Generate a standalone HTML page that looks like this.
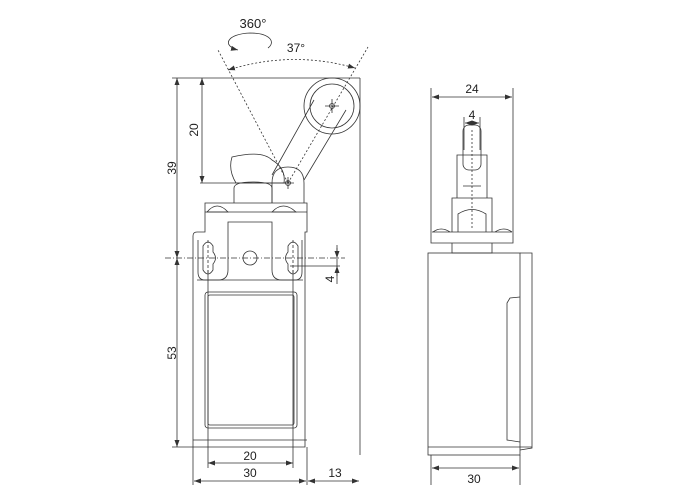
<!DOCTYPE html>
<html><head><style>body{margin:0;background:#fff}svg{display:block}</style></head><body>
<svg width="700" height="500" viewBox="0 0 700 500" xmlns="http://www.w3.org/2000/svg" font-family="Liberation Sans, sans-serif" fill="none" stroke="#333" stroke-width="0.8">
<defs><marker id="a" markerWidth="8" markerHeight="6" refX="7" refY="3" orient="auto-start-reverse" markerUnits="userSpaceOnUse"><path d="M0,0.5 L7,3 L0,5.5z" fill="#333" stroke="none"/></marker></defs>
<text x="253" y="28" font-size="13" fill="#222" stroke="none" text-anchor="middle">360°</text>
<path d="M238,50 C222,46 226,34 250,33 C270,33 276,42 268,48" marker-start="url(#a)"/>
<text x="296" y="52" font-size="12" fill="#222" stroke="none" text-anchor="middle">37°</text>
<path d="M228,70 Q292,50 355,68" stroke-dasharray="2,2" marker-start="url(#a)" marker-end="url(#a)"/>
<line x1="288" y1="183" x2="218" y2="50" stroke-dasharray="2,2"/>
<line x1="288" y1="183" x2="368" y2="47" stroke-dasharray="2,2"/>
<line x1="172" y1="78" x2="360" y2="78"/>
<line x1="360" y1="78" x2="360" y2="455"/>
<line x1="177" y1="78" x2="177" y2="258" marker-start="url(#a)" marker-end="url(#a)"/>
<line x1="177" y1="258" x2="177" y2="447" marker-start="url(#a)" marker-end="url(#a)"/>
<line x1="172" y1="447" x2="193" y2="447"/>
<text transform="translate(176,168) rotate(-90)" font-size="12" fill="#222" stroke="none" text-anchor="middle">39</text>
<text transform="translate(176,353) rotate(-90)" font-size="12" fill="#222" stroke="none" text-anchor="middle">53</text>
<line x1="202" y1="78" x2="202" y2="183" marker-start="url(#a)" marker-end="url(#a)"/>
<line x1="200" y1="183" x2="290" y2="183"/>
<text transform="translate(198,130) rotate(-90)" font-size="12" fill="#222" stroke="none" text-anchor="middle">20</text>
<line x1="165" y1="258" x2="345" y2="258" stroke-dasharray="6,2,1,2"/>
<line x1="290" y1="266" x2="340" y2="266"/>
<line x1="337" y1="245" x2="337" y2="284"/>
<path d="M337,248 L337,258" marker-end="url(#a)"/><path d="M337,276 L337,266" marker-end="url(#a)"/>
<text transform="translate(334,279) rotate(-90)" font-size="12" fill="#222" stroke="none" text-anchor="middle">4</text>
<line x1="208" y1="270" x2="208" y2="468"/><line x1="293" y1="270" x2="293" y2="468"/>
<line x1="208" y1="463" x2="293" y2="463" marker-start="url(#a)" marker-end="url(#a)"/>
<text x="250" y="460" font-size="12" fill="#222" stroke="none" text-anchor="middle">20</text>
<line x1="193" y1="447" x2="193" y2="485"/><line x1="307" y1="447" x2="307" y2="485"/>
<line x1="194" y1="481" x2="306" y2="481" marker-start="url(#a)" marker-end="url(#a)"/>
<text x="250" y="477" font-size="12" fill="#222" stroke="none" text-anchor="middle">30</text>
<line x1="308" y1="481" x2="359" y2="481" marker-start="url(#a)" marker-end="url(#a)"/>
<text x="335" y="477" font-size="12" fill="#222" stroke="none" text-anchor="middle">13</text>
<path d="M205,232 L205,203 L307,203 L307,232 L305,232 L305,447 L193,447 L193,236 Q193,232 197,232 Z"/>
<line x1="193" y1="440" x2="307" y2="440"/>
<path d="M228,232 L228,222 L272,222 L272,232"/>
<path d="M228,232 L228,270 Q228,280 218,280 L205,280 Q198,280 198,272 L198,240"/>
<path d="M272,232 L272,270 Q272,280 282,280 L295,280 Q302,280 302,272 L302,240"/>
<line x1="197" y1="280" x2="303" y2="280"/>
<rect x="205" y="292" width="92" height="136" rx="3"/>
<rect x="208" y="295" width="86" height="130" rx="2"/>
<path d="M203,246 Q208,238 213,246 L213,252 Q218,258 213,264 L213,270 Q208,278 203,270 Z"/>
<path d="M298,246 Q293,238 288,246 L288,252 Q283,258 288,264 L288,270 Q293,278 298,270 Z"/>
<circle cx="250" cy="258" r="7"/>
<line x1="208" y1="240" x2="208" y2="275" stroke-dasharray="3,2"/><line x1="293" y1="240" x2="293" y2="275" stroke-dasharray="3,2"/>
<path d="M207,212 Q217,200 228,212 Z M272,212 Q283,200 296,212 Z"/>
<line x1="205" y1="212" x2="307" y2="212"/>
<path d="M234,203 L234,188 Q234,182 253,182 Q272,182 272,188 L272,203"/>
<path d="M232,157 Q262,150 272,160 Q286,168 284,183 L236,183 Q228,170 232,157 Z"/>
<path d="M272,203 L272,183 Q272,167 288,167 Q304,167 304,183 L304,203"/>
<path d="M272,175 L314,100 M304,180 L346,110"/>
<circle cx="332" cy="106" r="28"/><circle cx="332" cy="106" r="22"/>
<path d="M282,183 h12 M288,177 v12 M325,106 h14 M332,99 v14"/>
<circle cx="288" cy="183" r="2.5"/><circle cx="332" cy="106" r="2.5"/>
<line x1="431" y1="88" x2="431" y2="232"/><line x1="513" y1="88" x2="513" y2="232"/>
<line x1="432" y1="97" x2="512" y2="97" marker-start="url(#a)" marker-end="url(#a)"/>
<text x="472" y="93" font-size="12" fill="#222" stroke="none" text-anchor="middle">24</text>
<line x1="464" y1="117" x2="464" y2="150"/><line x1="480" y1="117" x2="480" y2="150"/>
<line x1="465" y1="123" x2="479" y2="123" marker-start="url(#a)" marker-end="url(#a)"/>
<text x="472" y="119" font-size="12" fill="#222" stroke="none" text-anchor="middle">4</text>
<rect x="463" y="125" width="18" height="45" rx="6"/>
<path d="M457,198 L457,155 L487,155 L487,198 M463,186 L481,186"/>
<path d="M452,232 L452,198 L492,198 L492,232"/>
<path d="M458,232 L458,214 Q472,205 486,214 L486,232"/>
<line x1="472" y1="130" x2="472" y2="230" stroke-dasharray="2,2"/>
<path d="M432,232 L512,232 M433,232 Q441,226 450,232 M495,232 Q504,226 512,232"/>
<path d="M431,232 L431,243 L513,243 L513,232 M452,243 L452,253 L492,253 L492,243"/>
<rect x="428" y="253" width="92" height="202"/>
<path d="M520,253 L532,253 L532,448 L520,450"/>
<path d="M520,297 L510,298 L507,303 L507,440 L520,442"/>
<line x1="428" y1="447" x2="532" y2="447"/>
<line x1="431" y1="455" x2="431" y2="485"/><line x1="520" y1="455" x2="520" y2="485"/>
<text x="474" y="483" font-size="12" fill="#222" stroke="none" text-anchor="middle">30</text>
<line x1="432" y1="468" x2="519" y2="468" marker-start="url(#a)" marker-end="url(#a)"/>
</svg>
</body></html>
